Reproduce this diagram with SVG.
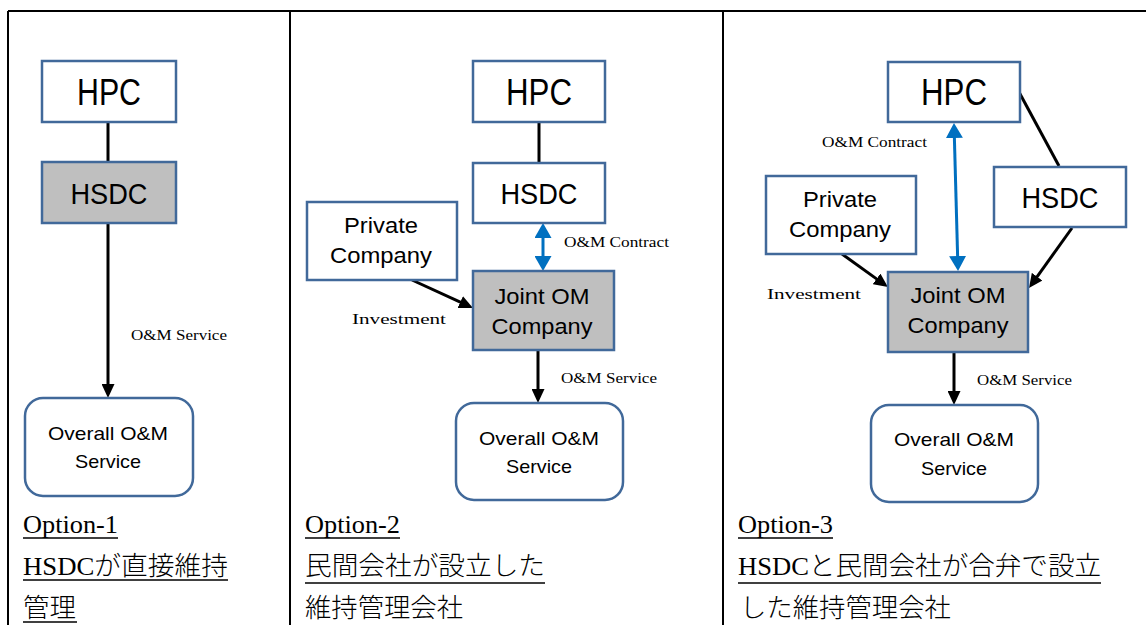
<svg xmlns="http://www.w3.org/2000/svg" width="1146" height="625" viewBox="0 0 1146 625">
<style>
.box{fill:#fff;stroke:#41699a;stroke-width:2.5}
.gray{fill:#bfbfbf;stroke:#41699a;stroke-width:2.5}
.rbox{fill:#fff;stroke:#41699a;stroke-width:2.5}
.big{font-family:"Liberation Sans",Arial,sans-serif;font-size:37px;fill:#000;text-anchor:middle}
.mid{font-family:"Liberation Sans",Arial,sans-serif;font-size:30px;fill:#000;text-anchor:middle}
.nm{font-family:"Liberation Sans",Arial,sans-serif;font-size:22px;fill:#000;text-anchor:middle}
.sm{font-family:"Liberation Sans",Arial,sans-serif;font-size:18.5px;fill:#000;text-anchor:middle}
.lbl{font-family:"Liberation Serif","Times New Roman",serif;font-size:15px;fill:#000}
.cap{font-family:"Liberation Serif","Noto Sans CJK JP",serif;font-size:26px;font-weight:300;fill:#000}
.conn{stroke:#000;stroke-width:3;fill:none}
.blue{stroke:#0070c0;stroke-width:3;fill:none}
.ul{stroke:#000;stroke-width:1.5}
.grid{stroke:#000;stroke-width:2}
</style>
<defs>
<marker id="ah" markerUnits="userSpaceOnUse" markerWidth="14" markerHeight="13" refX="3" refY="6.5" orient="auto">
<path d="M0,0 L14,6.5 L0,13 z" fill="#000"/>
</marker>
<marker id="bh" markerUnits="userSpaceOnUse" markerWidth="15" markerHeight="17" refX="3" refY="8.5" orient="auto-start-reverse">
<path d="M0,0 L15,8.5 L0,17 z" fill="#0070c0"/>
</marker>
</defs>
<rect x="0" y="0" width="1146" height="625" fill="#fff"/>
<g id="table">
<line class="grid" x1="8" y1="11" x2="1146" y2="11"/>
<line class="grid" x1="8" y1="11" x2="8" y2="625"/>
<line class="grid" x1="290" y1="11" x2="290" y2="625"/>
<line class="grid" x1="723" y1="11" x2="723" y2="625"/>
</g>
<g id="connectors">
<line class="conn" x1="108" y1="122" x2="108" y2="162"/>
<line class="conn" x1="108" y1="223" x2="108" y2="387" marker-end="url(#ah)"/>
<line class="conn" x1="539" y1="122" x2="539" y2="163"/>
<line class="blue" x1="543" y1="235" x2="543" y2="259" marker-start="url(#bh)" marker-end="url(#bh)"/>
<line class="conn" x1="412" y1="280" x2="463" y2="303.4" marker-end="url(#ah)"/>
<line class="conn" x1="538" y1="351" x2="538" y2="392" marker-end="url(#ah)"/>
<line class="conn" x1="1019" y1="92" x2="1059" y2="166"/>
<line class="blue" x1="954.3" y1="135" x2="957.7" y2="259" marker-start="url(#bh)" marker-end="url(#bh)"/>
<line class="conn" x1="842" y1="254" x2="879" y2="280.6" marker-end="url(#ah)"/>
<line class="conn" x1="1072" y1="228" x2="1035.4" y2="279.1" marker-end="url(#ah)"/>
<line class="conn" x1="954" y1="352" x2="954" y2="394" marker-end="url(#ah)"/>
<text class="lbl" x="131" y="340" textLength="96" lengthAdjust="spacingAndGlyphs">O&amp;M Service</text>
<text class="lbl" x="564" y="247" textLength="105" lengthAdjust="spacingAndGlyphs">O&amp;M Contract</text>
<text class="lbl" x="352" y="324" textLength="94" lengthAdjust="spacingAndGlyphs">Investment</text>
<text class="lbl" x="561" y="383" textLength="96" lengthAdjust="spacingAndGlyphs">O&amp;M Service</text>
<text class="lbl" x="822" y="147" textLength="105" lengthAdjust="spacingAndGlyphs">O&amp;M Contract</text>
<text class="lbl" x="767" y="299" textLength="94" lengthAdjust="spacingAndGlyphs">Investment</text>
<text class="lbl" x="977" y="385" textLength="95" lengthAdjust="spacingAndGlyphs">O&amp;M Service</text>
</g>
<g id="opt1-hpc"><rect class="box" x="42" y="61" width="134" height="61"/><text class="big" x="109" y="105" textLength="64" lengthAdjust="spacingAndGlyphs">HPC</text></g>
<g id="opt1-hsdc"><rect class="gray" x="42" y="162" width="134" height="61"/><text class="mid" x="109" y="204" textLength="77" lengthAdjust="spacingAndGlyphs">HSDC</text></g>
<g id="opt1-overall"><rect class="rbox" x="25" y="398" width="168" height="98" rx="18"/><text class="sm" x="108" y="440" textLength="120" lengthAdjust="spacingAndGlyphs">Overall O&amp;M</text><text class="sm" x="108" y="468" textLength="66" lengthAdjust="spacingAndGlyphs">Service</text></g>
<g id="opt1-caption">
<text class="cap" x="23" y="533" textLength="95" lengthAdjust="spacingAndGlyphs">Option-1</text>
<line class="ul" x1="23" y1="538" x2="118" y2="538"/>
<text class="cap" x="23" y="575" textLength="205" lengthAdjust="spacingAndGlyphs">HSDCが直接維持</text>
<line class="ul" x1="23" y1="580" x2="228" y2="580"/>
<text class="cap" x="23" y="617" textLength="53" lengthAdjust="spacingAndGlyphs">管理</text>
<line class="ul" x1="23" y1="622" x2="77" y2="622"/>
</g>
<g id="opt2-hpc"><rect class="box" x="473" y="61" width="132" height="61"/><text class="big" x="539" y="105" textLength="66" lengthAdjust="spacingAndGlyphs">HPC</text></g>
<g id="opt2-hsdc"><rect class="box" x="473" y="163" width="132" height="60"/><text class="mid" x="539" y="204" textLength="77" lengthAdjust="spacingAndGlyphs">HSDC</text></g>
<g id="opt2-private"><rect class="box" x="307" y="202" width="150" height="78"/><text class="nm" x="381" y="233" textLength="74" lengthAdjust="spacingAndGlyphs">Private</text><text class="nm" x="381" y="263" textLength="102" lengthAdjust="spacingAndGlyphs">Company</text></g>
<g id="opt2-joint"><rect class="gray" x="473" y="271" width="141" height="79"/><text class="nm" x="542" y="304" textLength="95" lengthAdjust="spacingAndGlyphs">Joint OM</text><text class="nm" x="542" y="334" textLength="101" lengthAdjust="spacingAndGlyphs">Company</text></g>
<g id="opt2-overall"><rect class="rbox" x="456" y="403" width="167" height="97" rx="18"/><text class="sm" x="539" y="445" textLength="120" lengthAdjust="spacingAndGlyphs">Overall O&amp;M</text><text class="sm" x="539" y="473" textLength="66" lengthAdjust="spacingAndGlyphs">Service</text></g>
<g id="opt2-caption">
<text class="cap" x="305" y="533" textLength="95" lengthAdjust="spacingAndGlyphs">Option-2</text>
<line class="ul" x1="305" y1="538" x2="400" y2="538"/>
<text class="cap" x="305" y="575" textLength="240" lengthAdjust="spacingAndGlyphs">民間会社が設立した</text>
<line class="ul" x1="305" y1="583" x2="545" y2="583"/>
<text class="cap" x="305" y="617" textLength="158" lengthAdjust="spacingAndGlyphs">維持管理会社</text>
</g>
<g id="opt3-hpc"><rect class="box" x="888" y="62" width="132" height="60"/><text class="big" x="954" y="105" textLength="66" lengthAdjust="spacingAndGlyphs">HPC</text></g>
<g id="opt3-hsdc"><rect class="box" x="994" y="167" width="132" height="60"/><text class="mid" x="1060" y="208" textLength="77" lengthAdjust="spacingAndGlyphs">HSDC</text></g>
<g id="opt3-private"><rect class="box" x="766" y="176" width="150" height="78"/><text class="nm" x="840" y="207" textLength="74" lengthAdjust="spacingAndGlyphs">Private</text><text class="nm" x="840" y="237" textLength="102" lengthAdjust="spacingAndGlyphs">Company</text></g>
<g id="opt3-joint"><rect class="gray" x="888" y="272" width="140" height="80"/><text class="nm" x="958" y="303" textLength="95" lengthAdjust="spacingAndGlyphs">Joint OM</text><text class="nm" x="958" y="333" textLength="101" lengthAdjust="spacingAndGlyphs">Company</text></g>
<g id="opt3-overall"><rect class="rbox" x="871" y="405" width="167" height="97" rx="18"/><text class="sm" x="954" y="446" textLength="120" lengthAdjust="spacingAndGlyphs">Overall O&amp;M</text><text class="sm" x="954" y="475" textLength="66" lengthAdjust="spacingAndGlyphs">Service</text></g>
<g id="opt3-caption">
<text class="cap" x="738" y="533" textLength="95" lengthAdjust="spacingAndGlyphs">Option-3</text>
<line class="ul" x1="738" y1="538" x2="833" y2="538"/>
<text class="cap" x="738" y="575" textLength="363" lengthAdjust="spacingAndGlyphs">HSDCと民間会社が合弁で設立</text>
<line class="ul" x1="738" y1="583" x2="1101" y2="583"/>
<text class="cap" x="740" y="617" textLength="211" lengthAdjust="spacingAndGlyphs">した維持管理会社</text>
</g>
</svg>
